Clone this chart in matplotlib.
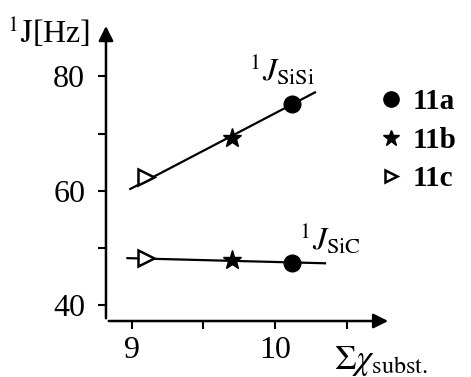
import matplotlib
matplotlib.use('Agg')
import matplotlib.pyplot as plt
from matplotlib.lines import Line2D

plt.rcParams['font.family'] = ['Liberation Serif', 'DejaVu Serif']
plt.rcParams['mathtext.fontset'] = 'stix'

# data
compounds = ['11a', '11b', '11c']
chi_sum = [10.12, 9.70, 9.10]
j_sisi = [75.1, 69.2, 62.4]
j_sic = [47.3, 47.9, 48.2]
markers = ['o', '*', '>']

# regression lines (end points)
sisi_line_x = [8.99, 10.28]
sisi_line_y = [60.3, 77.2]
sic_line_x = [8.97, 10.35]
sic_line_y = [48.2, 47.3]

fig = plt.figure(figsize=(4.71, 3.77), dpi=100)
ax = fig.add_axes([0.225, 0.1485, 0.605, 0.79])
ax.set_xlim(8.82, 10.81)
ax.set_ylim(37.2, 89.3)

ax.plot(sisi_line_x, sisi_line_y, color='k', lw=1.6)
ax.plot(sic_line_x, sic_line_y, color='k', lw=1.6)

for x, y1, y2, m in zip(chi_sum, j_sisi, j_sic, markers):
    for y in (y1, y2):
        if m == '>':
            ax.plot(x, y, marker=m, ms=12, mfc='white', mec='k', mew=1.8, zorder=3)
        elif m == '*':
            ax.plot(x, y, marker=m, ms=14, color='k', zorder=3)
        else:
            ax.plot(x, y, marker=m, ms=12, color='k', zorder=3)

for s in ax.spines.values():
    s.set_visible(False)
ax.annotate('', xy=(1, 0), xytext=(0, 0), xycoords='axes fraction',
            arrowprops=dict(arrowstyle='-|>', lw=1.8, color='k', mutation_scale=22))
ax.annotate('', xy=(0, 1), xytext=(0, 0), xycoords='axes fraction',
            arrowprops=dict(arrowstyle='-|>', lw=1.8, color='k', mutation_scale=22))

ax.set_xticks([9, 9.5, 10, 10.5])
ax.set_xticklabels(['9', '', '10', ''])
ax.set_yticks([40, 50, 60, 70, 80])
ax.set_yticklabels(['40', '', '60', '', '80'])
ax.tick_params(direction='out', length=6, width=1.5, labelsize=23)
ax.tick_params(axis='y', pad=9)
ax.tick_params(axis='x', pad=5)

ax.text(9.82, 79.3, r'$^{1}J_{\mathrm{SiSi}}$', fontsize=23)
ax.text(10.17, 49.6, r'$^{1}J_{\mathrm{SiC}}$', fontsize=23)

fig.text(0.015, 0.885, r'$^{1}\mathrm{J}$[Hz]', fontsize=23)
fig.text(0.71, 0.02, r'$\Sigma\chi_{\mathrm{subst.}}$', fontsize=25)

handles = [
    Line2D([], [], ls='', marker='o', ms=11, color='k'),
    Line2D([], [], ls='', marker='*', ms=12, color='k'),
    Line2D([], [], ls='', marker='>', ms=9, mfc='white', mec='k', mew=1.8),
]
fig.legend(handles, compounds, loc='upper left', bbox_to_anchor=(0.78, 0.805),
           frameon=False, handlelength=0.6, handletextpad=0.45, labelspacing=0.4,
           borderpad=0, prop={'weight': 'bold', 'size': 21})

fig.savefig('out.png', dpi=100)
